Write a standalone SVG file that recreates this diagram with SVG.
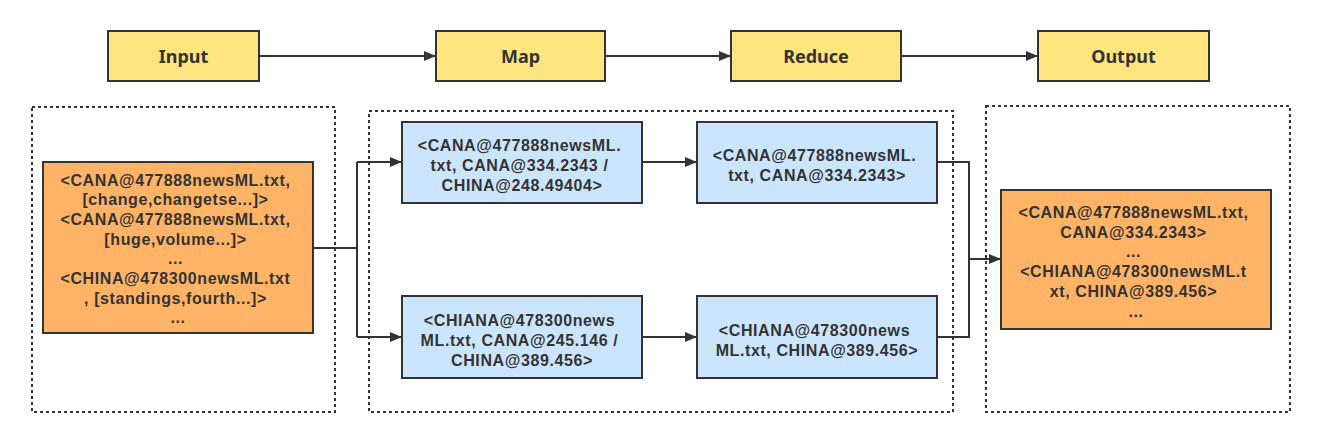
<svg xmlns="http://www.w3.org/2000/svg" width="1322" height="433" viewBox="0 0 1322 433">
<style>
.stage{fill:#FFE57F;stroke:#333;stroke-width:2}
.org{fill:#FFB366;stroke:#333;stroke-width:2}
.blue{fill:#CCE5FF;stroke:#333;stroke-width:2}
.grp{fill:none;stroke:#333;stroke-width:2;stroke-dasharray:3 3}
.t{font-family:"Noto Sans","Open Sans","DejaVu Sans",sans-serif;font-weight:bold;fill:#333;text-anchor:middle}
.ts{font-size:18px}
.tb{font-family:"Liberation Sans",Arial,sans-serif;font-size:16px;letter-spacing:0.6px}
.c{fill:none;stroke:#333;stroke-width:2}
</style>
<defs>
<marker id="ah" markerWidth="12" markerHeight="10" refX="12" refY="5" orient="auto" markerUnits="userSpaceOnUse">
<path d="M0,0 L12,5 L0,10 Z" fill="#333"/>
</marker>
</defs>
<rect class="grp" x="32" y="107" width="303" height="305"/>
<rect class="grp" x="369" y="111" width="584" height="301"/>
<rect class="grp" x="986" y="106" width="304" height="306"/>
<g id="connectors">
<path class="c" d="M259,56 H436" marker-end="url(#ah)"/>
<path class="c" d="M605,56 H731" marker-end="url(#ah)"/>
<path class="c" d="M901,56 H1038" marker-end="url(#ah)"/>
<path class="c" d="M313,248 H357"/>
<path class="c" d="M357,162 V337"/>
<path class="c" d="M357,162 H402" marker-end="url(#ah)"/>
<path class="c" d="M357,337 H402" marker-end="url(#ah)"/>
<path class="c" d="M642,162 H697" marker-end="url(#ah)"/>
<path class="c" d="M642,337 H697" marker-end="url(#ah)"/>
<path class="c" d="M937,162 H969 V337 H937"/>
<path class="c" d="M969,259 H1001" marker-end="url(#ah)"/>
</g>
<g id="input-stage"><rect class="stage" x="108" y="31" width="151" height="50"/><text class="t ts" x="183.5" y="63">Input</text></g>
<g id="map-stage"><rect class="stage" x="436" y="31" width="169" height="50"/><text class="t ts" x="520.5" y="63">Map</text></g>
<g id="reduce-stage"><rect class="stage" x="731" y="31" width="170" height="50"/><text class="t ts" x="816" y="63">Reduce</text></g>
<g id="output-stage"><rect class="stage" x="1038" y="31" width="171" height="50"/><text class="t ts" x="1123.5" y="63">Output</text></g>
<g id="input-data"><rect class="org" x="43" y="162" width="270" height="171"/>
<text class="t tb">
<tspan x="178" y="185.5">&lt;CANA@477888newsML.txt,</tspan>
<tspan x="178" y="205.2">[change,changetse...]&gt;</tspan>
<tspan x="178" y="224.9">&lt;CANA@477888newsML.txt,</tspan>
<tspan x="178" y="244.6">[huge,volume...]&gt;</tspan>
<tspan x="178" y="264.3">...</tspan>
<tspan x="178" y="284">&lt;CHINA@478300newsML.txt</tspan>
<tspan x="178" y="303.7">, [standings,fourth...]&gt;</tspan>
<tspan x="178" y="323.4">...</tspan>
</text></g>
<g id="map1"><rect class="blue" x="402" y="122" width="240" height="81"/>
<text class="t tb">
<tspan x="522" y="150.5">&lt;CANA@477888newsML.</tspan>
<tspan x="522" y="170.5">txt, CANA@334.2343 /</tspan>
<tspan x="522" y="190.5">CHINA@248.49404&gt;</tspan>
</text></g>
<g id="map2"><rect class="blue" x="402" y="296" width="240" height="82"/>
<text class="t tb">
<tspan x="522" y="325.5">&lt;CHIANA@478300news</tspan>
<tspan x="522" y="345.5">ML.txt, CANA@245.146 /</tspan>
<tspan x="522" y="365.5">CHINA@389.456&gt;</tspan>
</text></g>
<g id="reduce1"><rect class="blue" x="697" y="122" width="240" height="81"/>
<text class="t tb">
<tspan x="817" y="160.5">&lt;CANA@477888newsML.</tspan>
<tspan x="817" y="180.5">txt, CANA@334.2343&gt;</tspan>
</text></g>
<g id="reduce2"><rect class="blue" x="697" y="296" width="240" height="82"/>
<text class="t tb">
<tspan x="817" y="335.5">&lt;CHIANA@478300news</tspan>
<tspan x="817" y="355.5">ML.txt, CHINA@389.456&gt;</tspan>
</text></g>
<g id="output-data"><rect class="org" x="1001" y="190" width="270" height="139"/>
<text class="t tb">
<tspan x="1136" y="217.5">&lt;CANA@477888newsML.txt,</tspan>
<tspan x="1136" y="237.5">CANA@334.2343&gt;</tspan>
<tspan x="1136" y="257">...</tspan>
<tspan x="1136" y="277">&lt;CHIANA@478300newsML.t</tspan>
<tspan x="1136" y="297">xt, CHINA@389.456&gt;</tspan>
<tspan x="1136" y="316.5">...</tspan>
</text></g>
</svg>
